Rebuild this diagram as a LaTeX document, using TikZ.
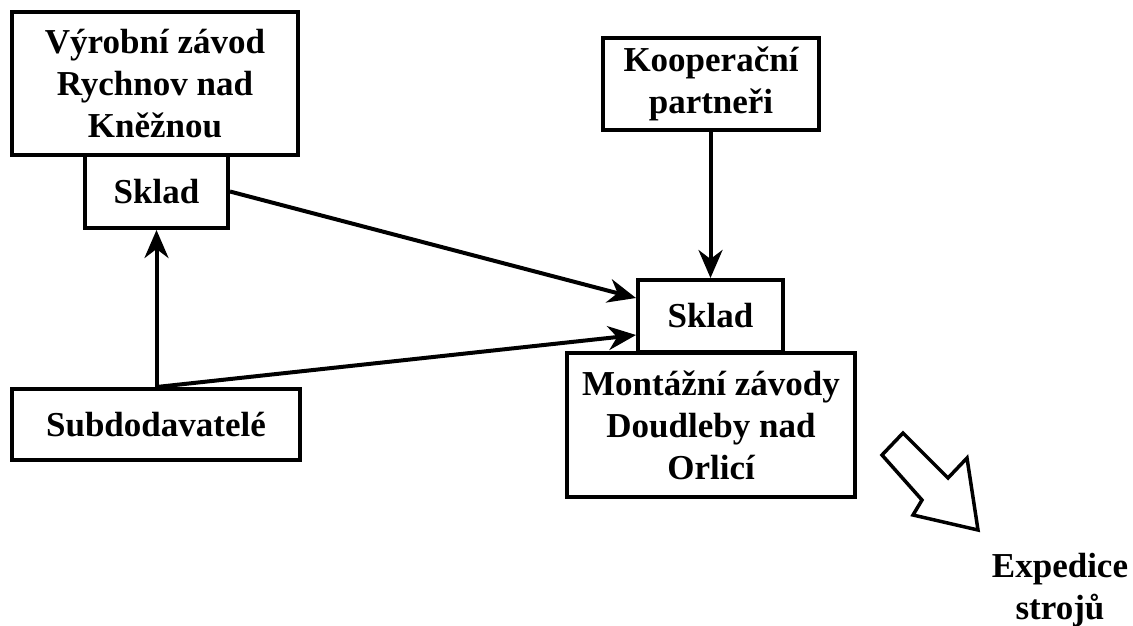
\documentclass[tikz,border=0pt]{standalone}
\usepackage{fontspec}
\setmainfont{Liberation Serif}
\usetikzlibrary{arrows.meta}

\begin{document}
\begin{tikzpicture}[x=1pt,y=-1pt,
    font=\fontsize{35}{42}\selectfont\bfseries,
    box/.style={draw,line width=4pt,fill=white,align=center,inner sep=0pt},
    flow/.style={line width=4pt,-{Stealth[length=28pt,width=24pt,inset=9pt]}}]
    \useasboundingbox (0,0) rectangle (1133,625);
    % plants with their stores
    \node[box,minimum width=286,minimum height=143] (zavod) at (155,83.5) {Výrobní závod\\Rychnov nad\\Kněžnou};
    \node[box,minimum width=143,minimum height=73] (sklad1) at (156.5,191.5) {Sklad};
    \node[box,minimum width=288,minimum height=144] (montaz) at (711,425) {Montážní závody\\Doudleby nad\\Orlicí};
    \node[box,minimum width=145,minimum height=72] (sklad2) at (710.5,316) {Sklad};
    \node[box,minimum width=216,minimum height=92] (koop) at (711,84) {Kooperační\\partneři};
    \node[box,minimum width=288,minimum height=71] (subdod) at (156,424.5) {Subdodavatelé};
    \node[align=center,inner sep=0pt] (exped) at (1060,590) {Expedice\\strojů};
    % flows
    \draw[flow] (sklad1.east) -- ([yshift=18pt]sklad2.west);
    \draw[flow] (subdod.north -| sklad1.south) -- (sklad1.south);
    \draw[flow] (subdod.north -| sklad1.south) -- ([yshift=-19pt]sklad2.west);
    \draw[flow] (koop.south -| sklad2.north) -- (sklad2.north);
    % hollow arrow to dispatch
    \draw[line width=3.5pt,line join=miter] (903,433) -- (948,478) -- (967,458) -- (978,530)
      -- (913,515) -- (922,500) -- (882,455) -- cycle;
\end{tikzpicture}
\end{document}
